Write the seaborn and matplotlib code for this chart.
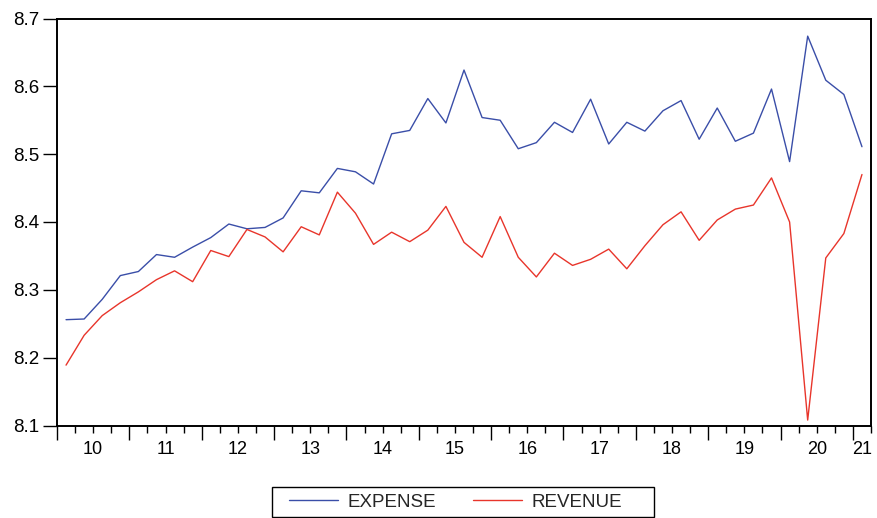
import matplotlib
matplotlib.use("Agg")
import matplotlib.pyplot as plt
import matplotlib.transforms as mtransforms
from matplotlib.patches import Rectangle
import numpy as np
import pandas as pd
import seaborn as sns

# Quarterly series, 2010Q1 - 2021Q1 (log scale values)
quarters = [str(p) for p in pd.period_range("2010Q1", "2021Q1", freq="Q")]

expense = [
    8.256, 8.257, 8.286, 8.321, 8.327, 8.352, 8.348, 8.363, 8.377, 8.397,
    8.390, 8.392, 8.406, 8.446, 8.443, 8.479, 8.474, 8.456, 8.530, 8.535,
    8.582, 8.546, 8.624, 8.554, 8.550, 8.508, 8.517, 8.547, 8.532, 8.581,
    8.515, 8.547, 8.534, 8.564, 8.579, 8.522, 8.568, 8.519, 8.531, 8.596,
    8.489, 8.674, 8.609, 8.588, 8.511,
]

revenue = [
    8.189, 8.233, 8.262, 8.281, 8.297, 8.315, 8.328, 8.312, 8.358, 8.349,
    8.389, 8.378, 8.356, 8.393, 8.381, 8.444, 8.413, 8.367, 8.385, 8.371,
    8.388, 8.423, 8.370, 8.348, 8.408, 8.348, 8.319, 8.354, 8.336, 8.345,
    8.360, 8.331, 8.365, 8.396, 8.415, 8.373, 8.403, 8.419, 8.425, 8.465,
    8.400, 8.108, 8.347, 8.383, 8.470,
]

series_names = ["EXPENSE", "REVENUE"]
series_colors = ["#3a4ea8", "#e8352b"]
year_labels = ["10", "11", "12", "13", "14", "15", "16", "17", "18", "19", "20", "21"]
y_ticks = [8.1, 8.2, 8.3, 8.4, 8.5, 8.6, 8.7]

n = len(quarters)
t = np.arange(n)
df = pd.DataFrame({
    "t": np.concatenate([t, t]),
    "value": expense + revenue,
    "series": [series_names[0]] * n + [series_names[1]] * n,
})

sns.set_style("white")
plt.rcParams["font.family"] = ["Liberation Sans", "DejaVu Sans"]

W, H = 878, 518
fig = plt.figure(figsize=(W / 100, H / 100), dpi=100)
ax = fig.add_axes([57 / W, 1 - 425.5 / H, 814 / W, 407 / H])

sns.lineplot(
    data=df, x="t", y="value", hue="series",
    palette=dict(zip(series_names, series_colors)),
    linewidth=1.0, ax=ax, legend=False,
)

ax.set_xlim(-0.5, n - 0.5)
ax.set_ylim(8.1, 8.7)
ax.set_xlabel("")
ax.set_ylabel("")

# y axis
ax.set_yticks(y_ticks)
ax.set_yticklabels([f"{v:.1f}" for v in y_ticks], fontsize=13.5)
ax.tick_params(axis="y", direction="out", length=10, width=1.0, pad=3,
               color="black", labelcolor="black", left=True)

# x axis: long ticks at year boundaries, short ticks at quarters
year_of = [q[2:4] for q in quarters]
bounds = [i - 0.5 for i in range(n) if i == 0 or year_of[i] != year_of[i - 1]]
ax.set_xticks(bounds)
ax.set_xticklabels([])
ax.set_xticks([i - 0.5 for i in range(n + 1) if (i - 0.5) not in bounds], minor=True)
ax.tick_params(axis="x", which="major", direction="out", length=10, width=1.0,
               color="black", bottom=True)
ax.tick_params(axis="x", which="minor", direction="out", length=5, width=1.0,
               color="black", bottom=True)

# year labels centred under each year's quarters
trans = mtransforms.blended_transform_factory(ax.transData, ax.transAxes)
for lab in year_labels:
    idx = [i for i in range(n) if year_of[i] == lab]
    if not idx:
        continue
    xc = (idx[0] + idx[-1]) / 2
    ax.text(xc, -0.038, lab, transform=trans, ha="center", va="top",
            fontsize=13, color="black")

for sp in ax.spines.values():
    sp.set_visible(True)
    sp.set_color("black")
    sp.set_linewidth(1.4)

# legend entries inside a fixed box below the plot
handles = ax.get_lines()[:2]
fig.legend(
    handles, series_names, loc="center left",
    bbox_to_anchor=(289 / W, 1 - 502 / H), ncol=2,
    fontsize=13.5, frameon=False,
    handlelength=2.6, handletextpad=0.5, columnspacing=2.0,
    borderpad=0.0, borderaxespad=0.0,
)
fig.patches.append(Rectangle(
    (272 / W, 1 - 517 / H), (654 - 272) / W, 30 / H,
    transform=fig.transFigure, fill=False, edgecolor="black", linewidth=1.0,
))

fig.savefig("out.png", dpi=100)
